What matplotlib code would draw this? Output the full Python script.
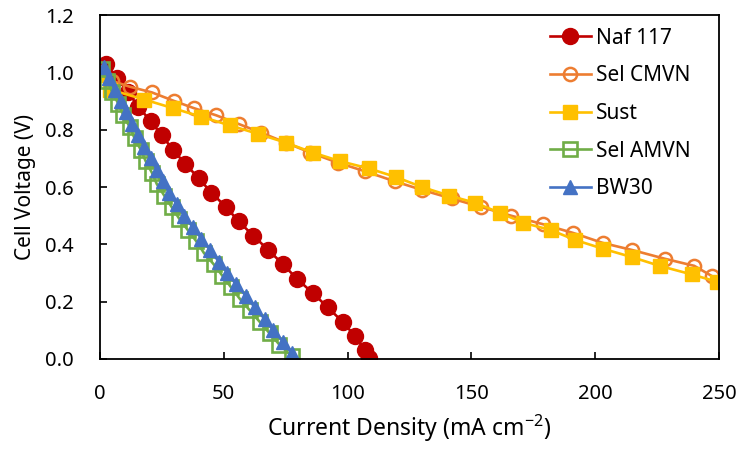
import matplotlib
matplotlib.use("Agg")
import matplotlib.pyplot as plt

plt.rcParams['font.family'] = ['Noto Sans', 'DejaVu Sans']
plt.rcParams['mathtext.default'] = 'regular'

# current density (mA cm-2) and cell voltage (V)
naf_x = [2.5, 7, 11.5, 15.5, 20.5, 25, 29.5, 34.5, 40, 45, 51, 56, 62, 68,
         74, 79.5, 86, 92, 98, 103, 107, 108.5]
naf_v = [1.03, 0.98, 0.93, 0.88, 0.83, 0.78, 0.73, 0.68, 0.63, 0.58, 0.53,
         0.48, 0.43, 0.38, 0.33, 0.28, 0.23, 0.18, 0.13, 0.08, 0.03, 0.005]

cmvn_x = [1, 5, 12, 21, 30, 38, 47, 56, 65, 75, 85, 96, 107, 119, 130, 142,
          154, 166, 179, 191, 203, 215, 228, 240, 247]
cmvn_v = [1.00, 0.97, 0.95, 0.93, 0.90, 0.875, 0.85, 0.82, 0.79, 0.755, 0.72,
          0.685, 0.655, 0.62, 0.59, 0.56, 0.53, 0.50, 0.47, 0.44, 0.405, 0.38,
          0.35, 0.325, 0.29]

sust_x = [1, 4, 18, 29.5, 41, 52.5, 64, 75, 86, 97, 108.5, 119.5, 130, 141,
          151.5, 161.5, 171, 182, 192, 203, 215, 226, 239, 249]
sust_v = [0.99, 0.94, 0.905, 0.875, 0.845, 0.815, 0.785, 0.755, 0.72, 0.69,
          0.665, 0.635, 0.60, 0.57, 0.545, 0.51, 0.475, 0.45, 0.415, 0.385,
          0.355, 0.325, 0.295, 0.27]

amvn_x = [1, 3, 5, 7.5, 9.5, 12, 14, 16.5, 18.5, 21, 23, 26, 29, 32, 35.5, 39,
          42, 46, 49.5, 53, 56.5, 60.5, 64.5, 68.5, 72.5, 77.5]
amvn_v = [1.01, 0.97, 0.93, 0.89, 0.85, 0.81, 0.77, 0.73, 0.69, 0.65, 0.61,
          0.57, 0.53, 0.49, 0.45, 0.41, 0.37, 0.33, 0.29, 0.25, 0.21, 0.17,
          0.13, 0.09, 0.05, 0.01]

bw30_x = [1.5, 3.5, 6, 8.5, 10.5, 13, 15.5, 18, 20.5, 23, 25.5, 28, 31, 34,
          37.5, 41, 44.5, 48, 51.5, 55, 59, 62.5, 66.5, 70, 74, 77.5]
bw30_v = [1.02, 0.98, 0.94, 0.90, 0.86, 0.82, 0.78, 0.74, 0.70, 0.66, 0.62,
          0.58, 0.54, 0.50, 0.46, 0.42, 0.38, 0.34, 0.30, 0.26, 0.22, 0.18,
          0.14, 0.10, 0.06, 0.02]

fig = plt.figure(figsize=(7.4, 4.51), dpi=100)
ax = fig.add_axes([0.135, 0.204, 0.8366, 0.7627])

lw = 1.9
ax.plot(naf_x, naf_v, '-o', color='#C00000', lw=lw, ms=11.5, label='Naf 117')
ax.plot(cmvn_x, cmvn_v, '-o', color='#ED7D31', lw=lw, ms=9.5, mfc='none',
        mew=1.8, label='Sel CMVN')
ax.plot(sust_x, sust_v, '-s', color='#FFC000', lw=lw, ms=10.5, label='Sust')
ax.plot(amvn_x, amvn_v, '-s', color='#70AD47', lw=lw, ms=9.5, mfc='none',
        mew=1.9, label='Sel AMVN')
ax.plot(bw30_x, bw30_v, '-^', color='#4472C4', lw=lw, ms=10, label='BW30')

ax.set_xlim(0, 250)
ax.set_ylim(0, 1.2)
ax.set_xticks([0, 50, 100, 150, 200, 250])
ax.set_yticks([0.0, 0.2, 0.4, 0.6, 0.8, 1.0, 1.2])
ax.set_yticklabels(['0.0', '0.2', '0.4', '0.6', '0.8', '1.0', '1.2'])
ax.tick_params(direction='in', length=5, width=1.2, labelsize=14.5,
               colors='black')
ax.tick_params(axis='x', pad=18)
ax.tick_params(axis='y', pad=19)
for s in ax.spines.values():
    s.set_linewidth(1.3)

ax.set_xlabel('Current Density (mA cm$^{-2}$)', fontsize=16.5, labelpad=6)
ax.set_ylabel('Cell Voltage (V)', fontsize=15, labelpad=6)

ax.legend(loc='upper right', frameon=False, fontsize=15, handlelength=2.0,
          handletextpad=0.25, labelspacing=0.8, borderaxespad=0.2,
          bbox_to_anchor=(0.975, 1.0))

fig.savefig('out.png', dpi=100)
